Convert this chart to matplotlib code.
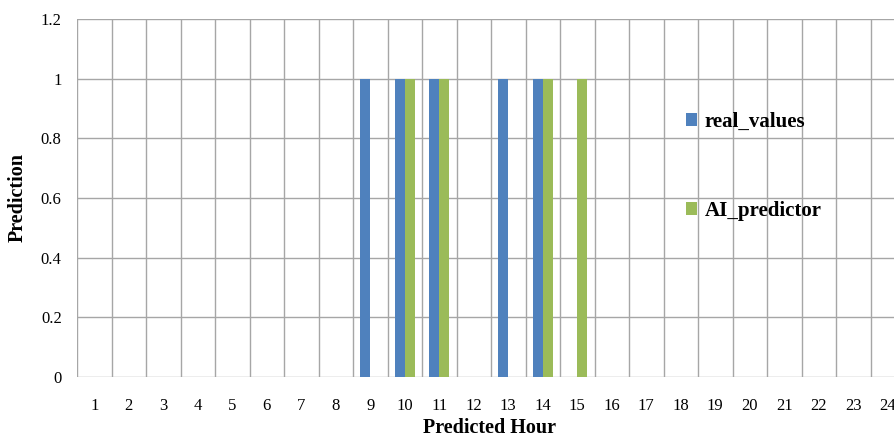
import numpy as np
import matplotlib.pyplot as plt

plt.rcParams['font.family'] = ['Liberation Serif', 'DejaVu Serif']

hours = [str(h) for h in range(1, 25)]
real_values = [0, 0, 0, 0, 0, 0, 0, 0, 1, 1, 1, 0, 1, 1, 0, 0, 0, 0, 0, 0, 0, 0, 0, 0]
ai_predictor = [0, 0, 0, 0, 0, 0, 0, 0, 0, 1, 1, 0, 0, 1, 1, 0, 0, 0, 0, 0, 0, 0, 0, 0]
yticks = [0, 0.2, 0.4, 0.6, 0.8, 1, 1.2]
ytick_labels = ['0', '0.2', '0.4', '0.6', '0.8', '1', '1.2']

fig = plt.figure(figsize=(8.95, 4.4), dpi=100)
# plot area runs past the right edge like in the original (cropped)
ax = fig.add_axes([77 / 895, 63 / 440, 828 / 895, 358 / 440])

x = np.arange(len(hours))
w = 0.29
ax.bar(x - w / 2, real_values, w, color='#4F81BD', label='real_values', zorder=3)
ax.bar(x + w / 2, ai_predictor, w, color='#9BBB59', label='AI_predictor', zorder=3)

ax.set_xlim(-0.5, len(hours) - 0.5)
ax.set_ylim(0, 1.2)
ax.set_yticks(yticks)
ax.set_yticklabels(ytick_labels)
ax.set_xticks(x)
ax.set_xticklabels(hours)
ax.set_xticks(np.arange(len(hours) + 1) - 0.5, minor=True)

ax.grid(axis='y', which='major', color='#a6a6a6', linewidth=1, zorder=0)
ax.grid(axis='x', which='minor', color='#a6a6a6', linewidth=1, zorder=0)
for s in ax.spines.values():
    s.set_visible(False)
ax.tick_params(axis='both', which='both', length=0, labelsize=12)
ax.tick_params(axis='x', pad=15)
ax.tick_params(axis='y', pad=11)

fig.text(18 / 895, 1 - 198 / 440, 'Prediction', rotation=90, fontsize=14.5,
         fontweight='bold', ha='center', va='center')
fig.text(490 / 895, 1 - 428 / 440, 'Predicted Hour', fontsize=14.5,
         fontweight='bold', ha='center', va='center')

leg = fig.legend(loc='upper left', bbox_to_anchor=(686 / 895, 1 - 112 / 440),
                 frameon=False, labelspacing=3.3,
                 handlelength=0.55, handleheight=0.55, handletextpad=0.35,
                 borderpad=0, borderaxespad=0,
                 prop={'weight': 'bold', 'size': 15})

fig.savefig('out.png', dpi=100)
